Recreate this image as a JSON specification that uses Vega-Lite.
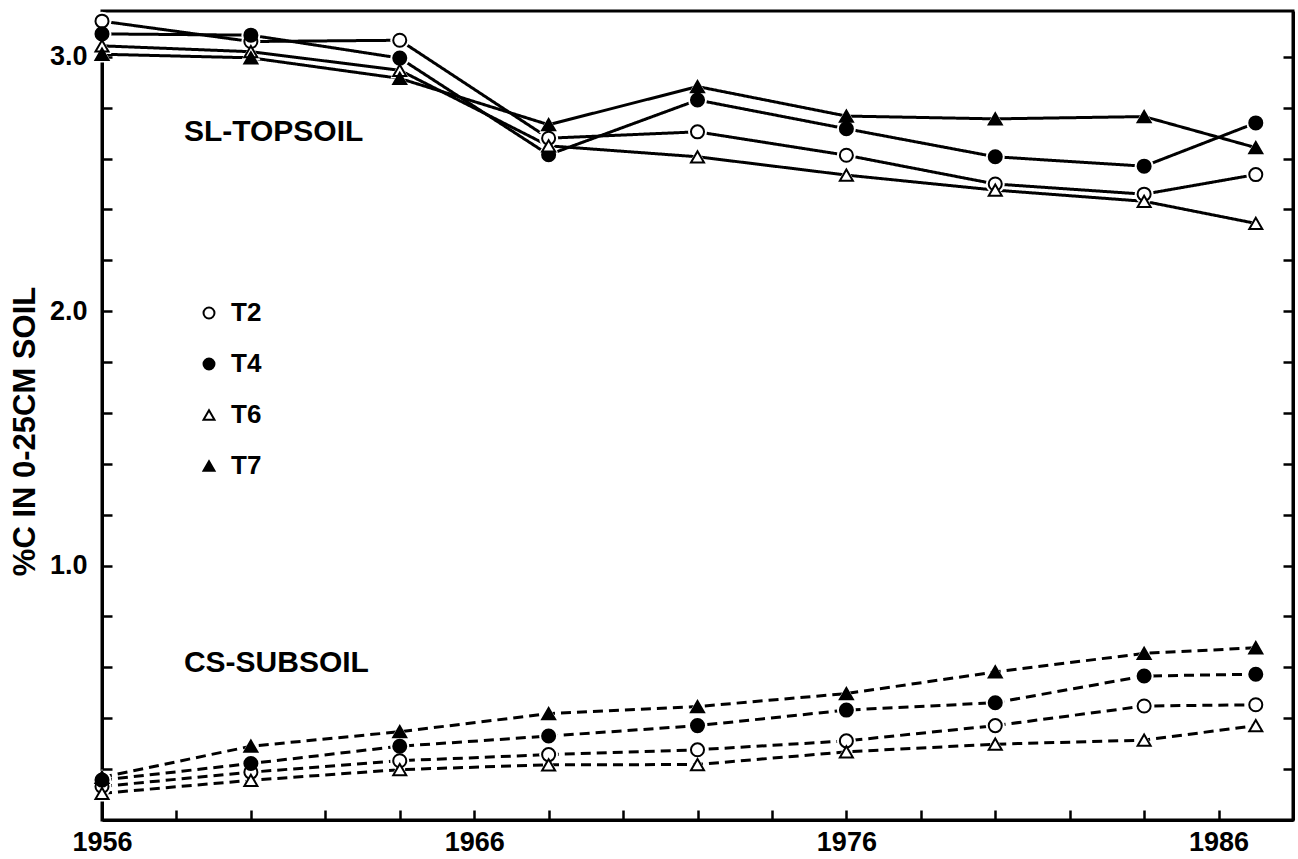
{
  "$schema": "https://vega.github.io/schema/vega-lite/v6.json",
  "width": 1191,
  "height": 809,
  "autosize": {"type": "none"},
  "padding": {"left": 102, "top": 11, "right": 5, "bottom": 39},
  "background": "white",
  "config": {
    "font": "Liberation Sans",
    "view": {"stroke": "black", "strokeWidth": 3},
    "axis": {
      "domainColor": "black", "domainWidth": 3,
      "tickColor": "black", "tickWidth": 2.5, "tickSize": -10,
      "labelFont": "Liberation Sans", "labelFontWeight": "bold", "labelFontSize": 27, "labelColor": "black",
      "grid": false,
      "titleColor": "black", "titleFont": "Liberation Sans", "titleFontWeight": "bold", "titleFontSize": 31
    }
  },
  "datasets": {
    "main": [
      {"year": 1956, "series": "T2", "soil": "SL-TOPSOIL", "value": 3.14},
      {"year": 1960, "series": "T2", "soil": "SL-TOPSOIL", "value": 3.06},
      {"year": 1964, "series": "T2", "soil": "SL-TOPSOIL", "value": 3.065},
      {"year": 1968, "series": "T2", "soil": "SL-TOPSOIL", "value": 2.68},
      {"year": 1972, "series": "T2", "soil": "SL-TOPSOIL", "value": 2.705},
      {"year": 1976, "series": "T2", "soil": "SL-TOPSOIL", "value": 2.613},
      {"year": 1980, "series": "T2", "soil": "SL-TOPSOIL", "value": 2.5},
      {"year": 1984, "series": "T2", "soil": "SL-TOPSOIL", "value": 2.46},
      {"year": 1987, "series": "T2", "soil": "SL-TOPSOIL", "value": 2.537},
      {"year": 1956, "series": "T4", "soil": "SL-TOPSOIL", "value": 3.09},
      {"year": 1960, "series": "T4", "soil": "SL-TOPSOIL", "value": 3.085},
      {"year": 1964, "series": "T4", "soil": "SL-TOPSOIL", "value": 2.995},
      {"year": 1968, "series": "T4", "soil": "SL-TOPSOIL", "value": 2.615},
      {"year": 1972, "series": "T4", "soil": "SL-TOPSOIL", "value": 2.83},
      {"year": 1976, "series": "T4", "soil": "SL-TOPSOIL", "value": 2.717},
      {"year": 1980, "series": "T4", "soil": "SL-TOPSOIL", "value": 2.607},
      {"year": 1984, "series": "T4", "soil": "SL-TOPSOIL", "value": 2.57},
      {"year": 1987, "series": "T4", "soil": "SL-TOPSOIL", "value": 2.74},
      {"year": 1956, "series": "T6", "soil": "SL-TOPSOIL", "value": 3.043},
      {"year": 1960, "series": "T6", "soil": "SL-TOPSOIL", "value": 3.02},
      {"year": 1964, "series": "T6", "soil": "SL-TOPSOIL", "value": 2.947},
      {"year": 1968, "series": "T6", "soil": "SL-TOPSOIL", "value": 2.65},
      {"year": 1972, "series": "T6", "soil": "SL-TOPSOIL", "value": 2.607},
      {"year": 1976, "series": "T6", "soil": "SL-TOPSOIL", "value": 2.535},
      {"year": 1980, "series": "T6", "soil": "SL-TOPSOIL", "value": 2.476},
      {"year": 1984, "series": "T6", "soil": "SL-TOPSOIL", "value": 2.432},
      {"year": 1987, "series": "T6", "soil": "SL-TOPSOIL", "value": 2.345},
      {"year": 1956, "series": "T7", "soil": "SL-TOPSOIL", "value": 3.01},
      {"year": 1960, "series": "T7", "soil": "SL-TOPSOIL", "value": 2.996},
      {"year": 1964, "series": "T7", "soil": "SL-TOPSOIL", "value": 2.915},
      {"year": 1968, "series": "T7", "soil": "SL-TOPSOIL", "value": 2.733},
      {"year": 1972, "series": "T7", "soil": "SL-TOPSOIL", "value": 2.883},
      {"year": 1976, "series": "T7", "soil": "SL-TOPSOIL", "value": 2.767},
      {"year": 1980, "series": "T7", "soil": "SL-TOPSOIL", "value": 2.756},
      {"year": 1984, "series": "T7", "soil": "SL-TOPSOIL", "value": 2.765},
      {"year": 1987, "series": "T7", "soil": "SL-TOPSOIL", "value": 2.643},
      {"year": 1956, "series": "T2", "soil": "CS-SUBSOIL", "value": 0.132},
      {"year": 1960, "series": "T2", "soil": "CS-SUBSOIL", "value": 0.188},
      {"year": 1964, "series": "T2", "soil": "CS-SUBSOIL", "value": 0.233},
      {"year": 1968, "series": "T2", "soil": "CS-SUBSOIL", "value": 0.257},
      {"year": 1972, "series": "T2", "soil": "CS-SUBSOIL", "value": 0.276},
      {"year": 1976, "series": "T2", "soil": "CS-SUBSOIL", "value": 0.311},
      {"year": 1980, "series": "T2", "soil": "CS-SUBSOIL", "value": 0.371},
      {"year": 1984, "series": "T2", "soil": "CS-SUBSOIL", "value": 0.448},
      {"year": 1987, "series": "T2", "soil": "CS-SUBSOIL", "value": 0.453},
      {"year": 1956, "series": "T4", "soil": "CS-SUBSOIL", "value": 0.157},
      {"year": 1960, "series": "T4", "soil": "CS-SUBSOIL", "value": 0.222},
      {"year": 1964, "series": "T4", "soil": "CS-SUBSOIL", "value": 0.29},
      {"year": 1968, "series": "T4", "soil": "CS-SUBSOIL", "value": 0.33},
      {"year": 1972, "series": "T4", "soil": "CS-SUBSOIL", "value": 0.371},
      {"year": 1976, "series": "T4", "soil": "CS-SUBSOIL", "value": 0.432},
      {"year": 1980, "series": "T4", "soil": "CS-SUBSOIL", "value": 0.461},
      {"year": 1984, "series": "T4", "soil": "CS-SUBSOIL", "value": 0.566},
      {"year": 1987, "series": "T4", "soil": "CS-SUBSOIL", "value": 0.573},
      {"year": 1956, "series": "T6", "soil": "CS-SUBSOIL", "value": 0.105},
      {"year": 1960, "series": "T6", "soil": "CS-SUBSOIL", "value": 0.156},
      {"year": 1964, "series": "T6", "soil": "CS-SUBSOIL", "value": 0.198},
      {"year": 1968, "series": "T6", "soil": "CS-SUBSOIL", "value": 0.217},
      {"year": 1972, "series": "T6", "soil": "CS-SUBSOIL", "value": 0.218},
      {"year": 1976, "series": "T6", "soil": "CS-SUBSOIL", "value": 0.268},
      {"year": 1980, "series": "T6", "soil": "CS-SUBSOIL", "value": 0.298},
      {"year": 1984, "series": "T6", "soil": "CS-SUBSOIL", "value": 0.314},
      {"year": 1987, "series": "T6", "soil": "CS-SUBSOIL", "value": 0.371},
      {"year": 1956, "series": "T7", "soil": "CS-SUBSOIL", "value": 0.168},
      {"year": 1960, "series": "T7", "soil": "CS-SUBSOIL", "value": 0.29},
      {"year": 1964, "series": "T7", "soil": "CS-SUBSOIL", "value": 0.347},
      {"year": 1968, "series": "T7", "soil": "CS-SUBSOIL", "value": 0.418},
      {"year": 1972, "series": "T7", "soil": "CS-SUBSOIL", "value": 0.446},
      {"year": 1976, "series": "T7", "soil": "CS-SUBSOIL", "value": 0.497},
      {"year": 1980, "series": "T7", "soil": "CS-SUBSOIL", "value": 0.582},
      {"year": 1984, "series": "T7", "soil": "CS-SUBSOIL", "value": 0.655},
      {"year": 1987, "series": "T7", "soil": "CS-SUBSOIL", "value": 0.677}
    ],
    "labels": [
      {"label": "SL-TOPSOIL", "year": 1958.2, "value": 2.705},
      {"label": "CS-SUBSOIL", "year": 1958.2, "value": 0.619}
    ]
  },
  "layer": [
    {
      "layer": [
        {
          "data": {"name": "main"},
          "mark": {"type": "line", "strokeWidth": 3, "color": "black"},
          "encoding": {
            "x": {
              "field": "year", "type": "quantitative",
              "scale": {"domain": [1956, 1988], "nice": false, "zero": false},
              "axis": {
                "title": null,
                "values": [1956, 1958, 1960, 1962, 1964, 1966, 1968, 1970, 1972, 1974, 1976, 1978, 1980, 1982, 1984, 1986],
                "format": "d",
                "labelExpr": "(datum.value - 1956) % 10 === 0 ? datum.label : ''",
                "labelPadding": 19,
                "labelFlush": false,
                "labelOverlap": false
              }
            },
            "y": {
              "field": "value", "type": "quantitative",
              "scale": {"domain": [0, 3.18], "nice": false},
              "axis": {
                "title": "%C IN 0-25CM SOIL",
                "values": [0.2, 0.4, 0.6, 0.8, 1.0, 1.2, 1.4, 1.6, 1.8, 2.0, 2.2, 2.4, 2.6, 2.8, 3.0],
                "format": ".1f",
                "labelExpr": "abs(datum.value - round(datum.value)) < 0.01 ? datum.label : ''",
                "labelPadding": 25,
                "labelFlush": false,
                "labelOverlap": false,
                "titlePadding": 8,
                "titleY": 420
              }
            },
            "detail": {"field": "series"},
            "strokeDash": {
              "field": "soil", "type": "nominal",
              "scale": {"domain": ["SL-TOPSOIL", "CS-SUBSOIL"], "range": [[1, 0], [10, 6]]},
              "legend": null
            }
          }
        },
        {
          "data": {"name": "main"},
          "transform": [{"filter": {"field": "series", "oneOf": ["T2", "T4"]}}],
          "mark": {"type": "point", "shape": "circle", "filled": true, "color": "white", "opacity": 1, "size": 360},
          "encoding": {
            "x": {"field": "year", "type": "quantitative"},
            "y": {"field": "value", "type": "quantitative"}
          }
        },
        {
          "data": {"name": "main"},
          "transform": [{"filter": {"field": "series", "oneOf": ["T6", "T7"]}}],
          "mark": {"type": "point", "shape": "triangle-up", "filled": true, "color": "white", "opacity": 1, "size": 360},
          "encoding": {
            "x": {"field": "year", "type": "quantitative"},
            "y": {"field": "value", "type": "quantitative"}
          }
        },
        {
          "data": {"name": "main"},
          "mark": {"type": "point", "filled": true, "strokeWidth": 2, "opacity": 1, "size": 170},
          "encoding": {
            "x": {"field": "year", "type": "quantitative"},
            "y": {"field": "value", "type": "quantitative"},
            "fill": {
              "field": "series", "type": "nominal",
              "scale": {"domain": ["T2", "T4", "T6", "T7"], "range": ["white", "black", "white", "black"]},
              "legend": {
                "title": null, "orient": "none", "legendX": 94, "legendY": 289,
                "labelFont": "Liberation Sans", "labelFontSize": 26, "labelFontWeight": "bold", "labelColor": "black",
                "symbolSize": 120, "symbolStrokeWidth": 2,
                "rowPadding": 25, "labelOffset": 9
              }
            },
            "stroke": {
              "field": "series", "type": "nominal",
              "scale": {"domain": ["T2", "T4", "T6", "T7"], "range": ["black", "black", "black", "black"]},
              "legend": {
                "title": null, "orient": "none", "legendX": 94, "legendY": 289,
                "labelFont": "Liberation Sans", "labelFontSize": 26, "labelFontWeight": "bold", "labelColor": "black",
                "symbolSize": 120, "symbolStrokeWidth": 2,
                "rowPadding": 25, "labelOffset": 9
              }
            },
            "shape": {
              "field": "series", "type": "nominal",
              "scale": {"domain": ["T2", "T4", "T6", "T7"], "range": ["circle", "circle", "triangle-up", "triangle-up"]},
              "legend": {
                "title": null, "orient": "none", "legendX": 94, "legendY": 289,
                "labelFont": "Liberation Sans", "labelFontSize": 26, "labelFontWeight": "bold", "labelColor": "black",
                "symbolSize": 120, "symbolStrokeWidth": 2,
                "rowPadding": 25, "labelOffset": 9
              }
            }
          }
        },
        {
          "data": {"name": "labels"},
          "mark": {"type": "text", "align": "left", "baseline": "middle", "font": "Liberation Sans", "fontSize": 30, "fontWeight": "bold", "color": "black"},
          "encoding": {
            "x": {"field": "year", "type": "quantitative"},
            "y": {"field": "value", "type": "quantitative"},
            "text": {"field": "label"}
          }
        }
      ]
    },
    {
      "data": {"name": "main"},
      "mark": {"type": "point", "opacity": 0},
      "encoding": {
        "x": {"field": "year", "type": "quantitative"},
        "y": {
          "field": "value", "type": "quantitative",
          "scale": {"domain": [0, 3.18], "nice": false},
          "axis": {
            "orient": "right", "title": null,
            "values": [0.2, 0.4, 0.6, 0.8, 1.0, 1.2, 1.4, 1.6, 1.8, 2.0, 2.2, 2.4, 2.6, 2.8, 3.0],
            "labels": false
          }
        }
      }
    }
  ],
  "resolve": {"scale": {"y": "independent"}, "axis": {"y": "independent"}}
}
